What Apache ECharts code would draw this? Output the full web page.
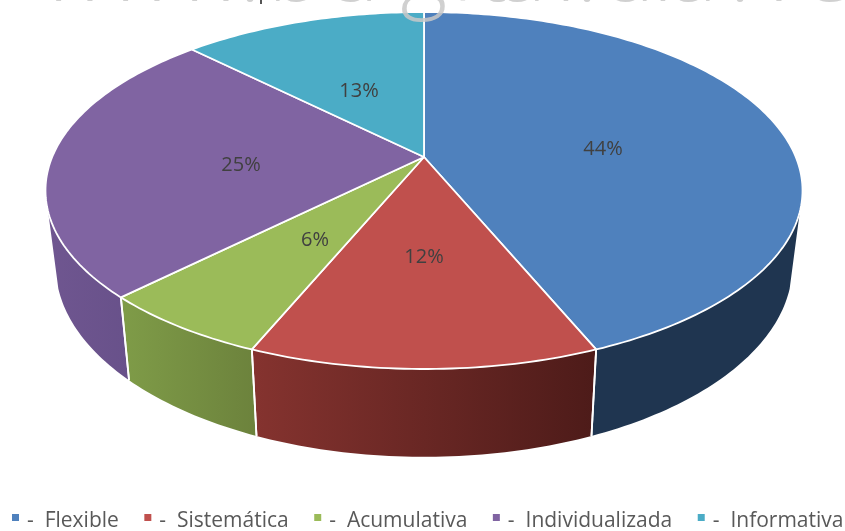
<!DOCTYPE html>
<html><head><meta charset="utf-8">
<style>html,body{margin:0;padding:0;background:#fff}#c{width:845px;height:531px}</style>
<script src="https://cdn.jsdelivr.net/npm/echarts@6/dist/echarts.min.js"></script>
</head><body><div id="c"></div>
<script>
const categories = ['Flexible','Sistemática','Acumulativa','Individualizada','Informativa'];
const shares = [43.75,12.5,6.25,25,12.5];
const shareLabels = ['44%','12%','6%','25%','13%'];
const topColors = ['#4F81BD','#C0504D','#9BBB59','#8064A2','#4BACC6'];
const wallLeft = ['#1F3550','#85332F','#7F9C48','#6F5690','#2E6B7C'];
const wallRight = ['#1F3550','#4D1B19','#6C823C','#68518A','#2E6B7C'];
const watermarkChars = ['w','w','w','.','b','d','g','i','t','a','l','.','u','l','a','.','v','e'];

// perspective disc
const CX=424, CY=157, A=371.8, B=172.2, K=0.1877, T0=107.5, T1=252.5;
function project(tDeg){
  const t=tDeg*Math.PI/180, u=Math.sin(t), v=-Math.cos(t), w=1-K*v;
  return [CX+A*u/w, CY+B*v/w];
}
function lower(p){ return [CX+(p[0]-CX)*0.973, 62+1.07*p[1]]; }
const total=shares.reduce((a,b)=>a+b,0);

function arc(a,b){
  const n=Math.max(4,Math.round((b-a))), out=[];
  for(let i=0;i<=n;i++) out.push(project(a+(b-a)*i/n));
  return out;
}
function sliceRender(idx){
  const before=shares.slice(0,idx).reduce((a,b)=>a+b,0);
  const a0=before/total*360;
  return function(params,api){
    const end=a0+api.value(0)/total*360;
    const children=[];
    const w0=Math.max(a0,T0), w1=Math.min(end,T1);
    if(w1>w0){
      const rim=arc(w0,w1);
      const pts=rim.concat(rim.map(lower).reverse());
      children.push({type:'polygon',z2:1,shape:{points:pts},style:{
        fill:new echarts.graphic.LinearGradient(0,0,1,0,[{offset:0,color:wallLeft[idx]},{offset:1,color:wallRight[idx]}])
      }});
      [a0,end].forEach(function(e){
        if(e>T0&&e<T1){
          const p=project(e), q=lower(p);
          children.push({type:'line',z2:3,shape:{x1:p[0],y1:p[1],x2:q[0],y2:q[1]},style:{stroke:'#fff',lineWidth:1.8}});
        }
      });
    }
    const pts=[[CX,CY]].concat(arc(a0,end));
    children.push({type:'polygon',z2:10,shape:{points:pts},style:{fill:topColors[idx],stroke:'#fff',lineWidth:1.8,lineJoin:'round'}});
    return {type:'group',children:children};
  };
}
const labelPos=[[603,149],[424,257],[315,240],[241,165],[359,91]];
const charX=[74,141,210,250,295,352,424,463,492,522,566,587,628,663,693,740,779,827];

const option={
  animation:false,
  backgroundColor:'#fff',
  legend:{
    data:categories, bottom:-6, left:7, width:1000,
    icon:'rect', itemWidth:7, itemHeight:7, itemGap:25.5,
    formatter:function(n){return '{a|-  '+n+'}';},
    textStyle:{rich:{a:{fontFamily:'Open Sans',fontSize:21,color:'#595959',padding:[8,0,0,3]}}}
  },
  series:categories.map(function(name,i){return {
    type:'custom',name:name,coordinateSystem:'none',
    itemStyle:{color:topColors[i]},
    data:[[shares[i]]],renderItem:sliceRender(i),silent:true
  };}),
  graphic:{elements:
    shareLabels.map(function(t,i){return {type:'text',x:labelPos[i][0],y:labelPos[i][1],z:50,
      style:{text:t,fill:'#404040',font:'20px "Open Sans"',align:'center',verticalAlign:'middle'}};})
    .concat(watermarkChars.map(function(c,i){return {type:'text',x:charX[i],y:-70,z:60,
      style:{text:c,fill:'rgba(200,200,200,0.85)',font:'300 90px "Open Sans"',align:'center',verticalAlign:'top'}};}))
    .concat([{type:'line',z:61,shape:{x1:261,y1:0,x2:261,y2:4},style:{stroke:'#555',lineWidth:2}}])
  }
};
const chart=echarts.init(document.getElementById('c'),null,{renderer:'canvas'});
chart.setOption(option);
</script></body></html>
